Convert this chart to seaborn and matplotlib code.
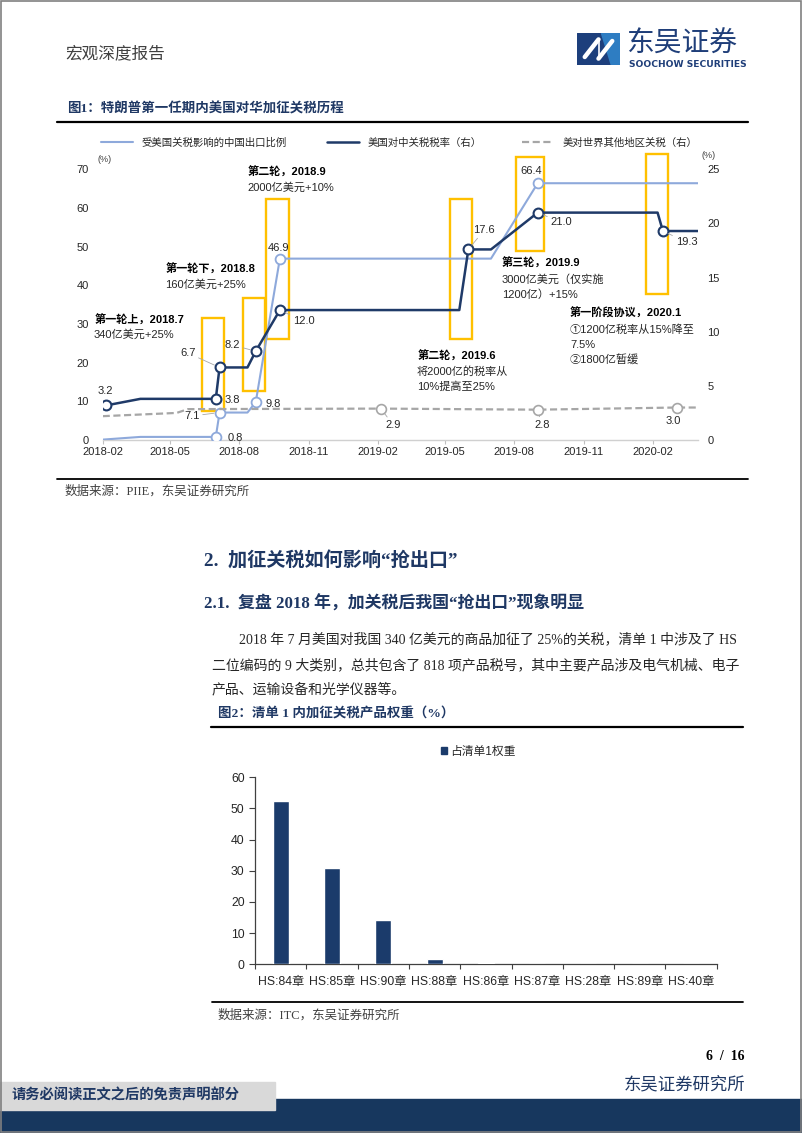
import numpy as np
import pandas as pd
import matplotlib
matplotlib.use('Agg')
import matplotlib.pyplot as plt
import matplotlib.dates as mdates
from matplotlib.patches import Rectangle, Polygon
from matplotlib.lines import Line2D
import seaborn as sns

# ---------------- data: figure 1 ----------------
share_dates = ['2018-02-01', '2018-03-23', '2018-07-01', '2018-07-06', '2018-08-12',
               '2018-08-23', '2018-09-24', '2019-07-01', '2019-09-01', '2020-04-01']
share_values = [0.1, 0.8, 0.8, 7.1, 7.1, 9.8, 46.9, 46.9, 66.4, 66.4]
share_marked = [2, 3, 5, 6, 8]

rate_dates = ['2018-02-06', '2018-03-23', '2018-07-01', '2018-07-06', '2018-08-12',
              '2018-08-23', '2018-09-24', '2019-05-20', '2019-06-01', '2019-07-01',
              '2019-09-01', '2020-02-07', '2020-02-14', '2020-04-01']
rate_values = [3.2, 3.8, 3.8, 6.7, 6.7, 8.2, 12.0, 12.0, 17.6, 17.6, 21.0, 21.0, 19.3, 19.3]
rate_marked = [0, 2, 3, 5, 6, 8, 10, 12]

world_dates = ['2018-02-01', '2018-05-10', '2018-05-25', '2019-02-05', '2019-09-01',
               '2020-03-04', '2020-04-01']
world_values = [2.2, 2.5, 2.85, 2.9, 2.8, 3.0, 3.0]
world_marked = [3, 4, 5]

series_names = ['受美国关税影响的中国出口比例', '美国对中关税税率（右）', '美对世界其他地区关税（右）']
left_ticks = [0, 10, 20, 30, 40, 50, 60, 70]
right_ticks = [0, 5, 10, 15, 20, 25]

# ---------------- data: figure 2 ----------------
hs_labels = ['HS:84章', 'HS:85章', 'HS:90章', 'HS:88章', 'HS:86章',
             'HS:87章', 'HS:28章', 'HS:89章', 'HS:40章']
hs_weights = [52.4, 30.9, 14.2, 1.7, 0.5, 0.1, 0.08, 0.05, 0.03]
bar_series = '占清单1权重'
bar_ticks = [0, 10, 20, 30, 40, 50, 60]

# ---------------- style ----------------
sns.set_theme(style='white')
plt.rcParams['font.family'] = ['Liberation Sans', 'Noto Sans CJK SC']
plt.rcParams['axes.unicode_minus'] = False
SERIF = ['Liberation Serif', 'Noto Sans CJK SC']
SANS = ['Liberation Sans', 'Noto Sans CJK SC']

NAVY = '#1F3A68'
LIGHT = '#8EA9DB'
GRAY = '#A6A6A6'
YELLOW = '#FFC000'
HEAD = '#1F3864'
TXT = '#262626'
BAR = '#1B3B6B'

W, H = 802, 1133
fig = plt.figure(figsize=(W / 100, H / 100), dpi=100)
fig.patch.set_facecolor('white')


def fx(x):
    return x / W


def fy(y):
    return 1 - y / H


def ptext(x, y, s, **kw):
    kw.setdefault('va', 'center')
    return fig.text(fx(x), fy(y), s, **kw)


def hline(x0, x1, y, lw, color='black'):
    fig.add_artist(Line2D([fx(x0), fx(x1)], [fy(y), fy(y)], color=color, lw=lw,
                          transform=fig.transFigure))


# ---------------- page header ----------------
ptext(65, 53, '宏观深度报告', fontsize=12, color='#404040', family=SANS)
# logo
lax = fig.add_axes([fx(577), fy(65), (620 - 577) / W, (65 - 33) / H])
lax.set_xlim(0, 1)
lax.set_ylim(0, 1)
lax.axis('off')
lax.add_patch(Rectangle((0, 0), 1, 1, color='#1D3F7C'))
lax.add_patch(Polygon([(0.55, 1), (1, 1), (1, 0), (0.8, 0)], color='#2E7DC2'))
lax.plot([0.18, 0.5], [0.25, 0.8], color='white', lw=3.2, solid_capstyle='round')
lax.plot([0.5, 0.82], [0.2, 0.75], color='white', lw=3.2, solid_capstyle='round')
lax.plot([0.5, 0.5], [0.2, 0.8], color='white', lw=1.2)
ptext(626, 45, '东吴证券', fontsize=20, color='#1F3E79', family=SANS)
ptext(629, 64.5, 'SOOCHOW SECURITIES', fontsize=6.6, color='#1F3E79',
      fontweight='bold', family=['DejaVu Sans'])

# ---------------- figure 1 title ----------------
ptext(67, 108.5, '图1：特朗普第一任期内美国对华加征关税历程', fontsize=9.7,
      fontweight='bold', color=HEAD, family=SERIF)
hline(57, 748, 121.7, 1.6)

# ---------------- figure 1 chart ----------------
ax1 = fig.add_axes([fx(102.7), fy(440), (698.3 - 102.7) / W, (440 - 169.3) / H])
ax2 = ax1.twinx()

df_share = pd.DataFrame({'date': pd.to_datetime(share_dates), 'value': share_values})
df_rate = pd.DataFrame({'date': pd.to_datetime(rate_dates), 'value': rate_values})
df_world = pd.DataFrame({'date': pd.to_datetime(world_dates), 'value': world_values})

sns.lineplot(data=df_share, x='date', y='value', ax=ax1, color=LIGHT, lw=1.5,
             legend=False, zorder=3)
sns.scatterplot(data=df_share.iloc[share_marked], x='date', y='value', ax=ax1,
                s=50, color='white', edgecolor=LIGHT, linewidth=1.3, zorder=4,
                legend=False)

sns.lineplot(data=df_world, x='date', y='value', ax=ax2, color=GRAY, lw=1.6,
             linestyle=(0, (3.2, 1.6)), legend=False, zorder=2)
sns.scatterplot(data=df_world.iloc[world_marked], x='date', y='value', ax=ax2,
                s=50, color='white', edgecolor=GRAY, linewidth=1.2, zorder=4,
                legend=False)
sns.lineplot(data=df_rate, x='date', y='value', ax=ax2, color=NAVY, lw=1.8,
             legend=False, zorder=3)
sns.scatterplot(data=df_rate.iloc[rate_marked], x='date', y='value', ax=ax2,
                s=50, color='white', edgecolor=NAVY, linewidth=1.5, zorder=5,
                legend=False)

x0 = mdates.date2num(pd.Timestamp('2018-02-01'))
x1 = mdates.date2num(pd.Timestamp('2020-04-01'))
ax1.set_xlim(x0, x1)
ax1.set_ylim(0, 70)
ax2.set_ylim(0, 25)
ax1.set_yticks(left_ticks)
ax2.set_yticks(right_ticks)
ax1.xaxis.set_major_locator(mdates.MonthLocator(bymonth=[2, 5, 8, 11]))
ax1.xaxis.set_major_formatter(mdates.DateFormatter('%Y-%m'))
for a in (ax1, ax2):
    a.set_xlabel('')
    a.set_ylabel('')
    a.patch.set_visible(False)
    for s in ('top', 'left', 'right', 'bottom'):
        a.spines[s].set_visible(False)
ax1.spines['bottom'].set_visible(True)
ax1.spines['bottom'].set_color('#D0D0D0')
ax1.spines['bottom'].set_linewidth(1.0)
ax1.tick_params(axis='x', direction='out', length=3, width=0.8, color='#BFBFBF',
                labelsize=8, pad=2.3, labelcolor=TXT, bottom=True)
ax1.tick_params(axis='y', length=0, pad=10, labelsize=8, labelcolor=TXT)
ax2.tick_params(axis='y', length=0, pad=6.5, labelsize=8, labelcolor=TXT)
ax1.grid(False)
ax2.grid(False)

# yellow highlight boxes (date range, left-axis value range)
box_specs = [('2018-06-13', '2018-07-12', 7.5, 31.5),
             ('2018-08-06', '2018-09-04', 12.7, 36.7),
             ('2018-09-06', '2018-10-06', 26.1, 62.3),
             ('2019-05-07', '2019-06-06', 26.1, 62.3),
             ('2019-08-03', '2019-09-10', 48.9, 73.2),
             ('2020-01-23', '2020-02-21', 37.7, 73.9)]
for d0, d1, v0, v1 in box_specs:
    b0 = mdates.date2num(pd.Timestamp(d0))
    b1 = mdates.date2num(pd.Timestamp(d1))
    ax1.add_patch(Rectangle((b0, v0), b1 - b0, v1 - v0, fill=False,
                            edgecolor=YELLOW, lw=1.7, clip_on=False, zorder=1))

# value labels
series_data = {'share': (df_share, ax1), 'rate': (df_rate, ax2), 'world': (df_world, ax2)}
label_specs = [
    ('rate', 0, -1, 10, False),
    ('rate', 2, 12, -1, False),
    ('rate', 3, -23, 10.5, True),
    ('share', 3, -20, -2.5, True),
    ('share', 2, 14, -1, False),
    ('rate', 5, -17, 4.5, True),
    ('share', 5, 12.5, -1.5, False),
    ('share', 6, -1, 7.8, False),
    ('rate', 6, 17, -8, True),
    ('world', 3, 9, -12, True),
    ('rate', 8, 11.5, 14, True),
    ('share', 8, -4.5, 8.8, False),
    ('rate', 10, 17, -7, True),
    ('world', 4, 3, -11, True),
    ('rate', 12, 17, -8, True),
    ('world', 5, -2.5, -10, False),
]
for key, idx, dx, dy, leader in label_specs:
    df, a = series_data[key]
    xd = mdates.date2num(df['date'].iloc[idx])
    v = df['value'].iloc[idx]
    ap = dict(arrowstyle='-', color='#A6A6A6', lw=0.6, shrinkA=0, shrinkB=4) if leader else None
    a.annotate(f'{v:.1f}', xy=(xd, v), xytext=(dx, dy), textcoords='offset points',
               ha='center', va='center', fontsize=8, color=TXT, arrowprops=ap,
               zorder=6, annotation_clip=False)

# legend
handles = [Line2D([], [], color=LIGHT, lw=1.5),
           Line2D([], [], color=NAVY, lw=1.8),
           Line2D([], [], color=GRAY, lw=1.6, linestyle=(0, (3.2, 1.6)))]
fig.legend(handles, series_names, loc='center left', ncol=3,
           bbox_to_anchor=(fx(101), fy(143)), frameon=False, fontsize=7.5,
           handlelength=3.1, handletextpad=0.8, columnspacing=3.85,
           borderpad=0, borderaxespad=0)
ptext(105, 159, '(%)', fontsize=6.5, color='#404040', ha='center')
ptext(709, 155, '(%)', fontsize=6.5, color='#404040', ha='center')

# event notes
chart_notes = [
    (95, 320.7, '第一轮上，2018.7', True), (93.5, 335, '340亿美元+25%', False),
    (166, 269, '第一轮下，2018.8', True), (165, 285, '160亿美元+25%', False),
    (248, 172, '第二轮，2018.9', True), (247, 187.5, '2000亿美元+10%', False),
    (418, 356.7, '第二轮，2019.6', True), (417, 371, '将2000亿的税率从', False),
    (417, 386.7, '10%提高至25%', False),
    (501.7, 263.3, '第三轮，2019.9', True), (501.7, 279, '3000亿美元（仅实施', False),
    (501.7, 294.3, '1200亿）+15%', False),
    (570, 313.3, '第一阶段协议，2020.1', True), (570, 329.3, '①1200亿税率从15%降至', False),
    (570, 345, '7.5%', False), (570, 360, '②1800亿暂缓', False),
]
for x, y, s, bold in chart_notes:
    ptext(x, y, s, fontsize=8, color='black' if bold else TXT,
          fontweight='bold' if bold else 'normal')

hline(57, 748, 478.5, 1.3)
ptext(65, 491.5, '数据来源：PIIE，东吴证券研究所', fontsize=9, color='#404040', family=SERIF)

# ---------------- section text ----------------
ptext(204, 561, '2.  加征关税如何影响“抢出口”', fontsize=13.8, fontweight='bold',
      color=HEAD, family=SERIF)
ptext(204, 604, '2.1.  复盘 2018 年，加关税后我国“抢出口”现象明显', fontsize=12.2,
      fontweight='bold', color=HEAD, family=SERIF)
para = [(239.3, 639.5, '2018 年 7 月美国对我国 340 亿美元的商品加征了 25%的关税，清单 1 中涉及了 HS'),
        (211.7, 665, '二位编码的 9 大类别，总共包含了 818 项产品税号，其中主要产品涉及电气机械、电子'),
        (211.7, 689.3, '产品、运输设备和光学仪器等。')]
for x, y, s in para:
    ptext(x, y, s, fontsize=10, color=TXT, family=SERIF)
ptext(218, 714, '图2：清单 1 内加征关税产品权重（%）', fontsize=9.7, fontweight='bold',
      color=HEAD, family=SERIF)
hline(210.7, 743.3, 727.3, 1.6)

# ---------------- figure 2 chart ----------------
ax3 = fig.add_axes([fx(255), fy(964.3), (716.7 - 255) / W, (964.3 - 777.3) / H])
df_bar = pd.DataFrame({'hs': hs_labels, 'weight': hs_weights})
sns.barplot(data=df_bar, x='hs', y='weight', ax=ax3, color=BAR, saturation=1,
            width=0.31, zorder=3)
ax3.set_xlim(-0.5, len(hs_labels) - 0.5)
ax3.set_ylim(0, 60)
ax3.set_yticks(bar_ticks)
ax3.set_xlabel('')
ax3.set_ylabel('')
ax3.grid(False)
for s in ('top', 'right'):
    ax3.spines[s].set_visible(False)
for s in ('left', 'bottom'):
    ax3.spines[s].set_visible(True)
    ax3.spines[s].set_color('#404040')
    ax3.spines[s].set_linewidth(0.9)
ax3.set_xticks(np.arange(-0.5, len(hs_labels), 1), minor=True)
ax3.tick_params(axis='x', which='major', length=0, pad=8.5, labelsize=8.8, labelcolor=TXT)
ax3.tick_params(axis='x', which='minor', direction='out', length=3.5, width=0.8,
                color='#404040', bottom=True)
ax3.tick_params(axis='y', direction='out', length=4, width=0.8, color='#404040',
                pad=3.5, labelsize=8.8, labelcolor=TXT, left=True)
fig.legend([Rectangle((0, 0), 1, 1, color=BAR)], [bar_series], loc='center left',
           bbox_to_anchor=(fx(440.5), fy(751.7)), frameon=False, fontsize=8.5,
           handlelength=0.55, handleheight=0.55, handletextpad=0.3,
           borderpad=0, borderaxespad=0)

hline(211.7, 743.3, 1001.7, 1.3)
ptext(218, 1015, '数据来源：ITC，东吴证券研究所', fontsize=9, color='#404040', family=SERIF)

# ---------------- footer ----------------
ptext(745, 1057, '6  /  16', fontsize=10, fontweight='bold', color='black',
      family=SERIF, ha='right')
ptext(745, 1085, '东吴证券研究所', fontsize=12.5, color=HEAD, family=SERIF, ha='right')
fig.add_artist(Rectangle((0, 0), 1, (1133 - 1099.3) / H, transform=fig.transFigure,
                         color='#17375E', zorder=0))
fig.add_artist(Rectangle((0, fy(1110)), fx(275), (1110 - 1082) / H,
                         transform=fig.transFigure, color='#D9D9D9', zorder=1))
ptext(12, 1095, '请务必阅读正文之后的免责声明部分', fontsize=10.3, fontweight='bold',
      color=HEAD, family=SERIF, zorder=2)

# page border
fig.add_artist(Rectangle((0.0012, 0.001), 0.9976, 0.998, transform=fig.transFigure,
                         fill=False, edgecolor='#808080', lw=1.2))

fig.savefig('out.png', dpi=100, facecolor='white')
